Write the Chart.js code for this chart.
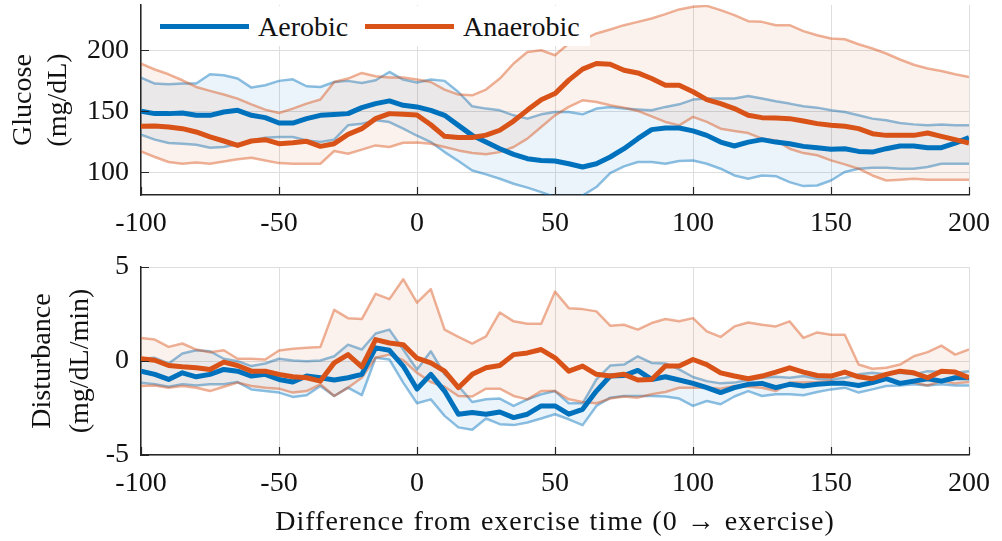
<!DOCTYPE html>
<html><head><meta charset="utf-8">
<script src="https://cdn.jsdelivr.net/npm/chart.js@4.4.1/dist/chart.umd.min.js"></script>
<style>
html,body{margin:0;padding:0;background:#fff;}
#wrap{position:relative;width:1002px;height:541px;overflow:hidden;font-family:'Liberation Serif',serif;color:#111;}
canvas{position:absolute;left:0;}
.t{position:absolute;white-space:nowrap;font-size:28px;line-height:1;}
.rot{transform:translate(-50%,-50%) rotate(-90deg);}
.ctr{transform:translate(-50%,-50%);}
#legend{position:absolute;left:142px;top:6px;width:448px;height:40px;background:#fff;z-index:5;}
.sw{position:absolute;height:5px;}
</style></head><body>
<div id="wrap">
<canvas id="topc" width="1002" height="250" style="top:0"></canvas>
<canvas id="botc" width="1002" height="291" style="top:250px"></canvas>
<div id="legend"></div>
<div class="t rot" style="left:22px;top:100px">Glucose</div>
<div class="t rot" style="left:57px;top:100px">(mg/dL)</div>
<div class="t rot" style="left:41px;top:361px">Disturbance</div>
<div class="t rot" style="left:79px;top:361px">(mg/dL/min)</div>
<div class="t ctr" style="left:555px;top:521px;letter-spacing:1px;word-spacing:1px">Difference from exercise time (0 → exercise)</div>
</div>
<script>
// ---------- data ----------
const times = [-100,-95,-90,-85,-80,-75,-70,-65,-60,-55,-50,-45,-40,-35,-30,-25,-20,-15,-10,-5,0,5,10,15,20,25,30,35,40,45,50,55,60,65,70,75,80,85,90,95,100,105,110,115,120,125,130,135,140,145,150,155,160,165,170,175,180,185,190,195,200];
const xTicks = [-100,-50,0,50,100,150,200];
const glucoseTicks = [100,150,200];
const disturbanceTicks = [-5,0,5];
const seriesNames = ['Aerobic','Anaerobic'];

const glucoseAerobicMean = [150.0,148.1,148.1,148.6,146.7,146.7,149.4,150.8,146.7,144.8,140.4,140.4,144.0,146.7,147.3,148.1,153.0,156.3,158.5,154.9,153.6,150.8,146.7,138.5,130.3,124.8,119.4,114.8,111.2,109.8,109.3,107.1,104.4,107.1,112.6,119.4,127.6,135.0,136.3,136.3,134.0,130.3,124.8,121.6,124.8,126.8,124.8,123.5,121.3,120.2,118.9,119.4,117.2,116.6,119.4,121.6,121.6,120.2,120.2,124.0,128.4];
const glucoseAerobicUpper = [177.6,172.7,172.1,172.7,172.7,180.3,179.5,176.8,169.4,171.3,174.9,176.2,170.5,169.9,174.0,174.9,173.2,175.4,182.2,176.0,173.5,176.0,174.9,165.8,154.1,152.2,150.8,146.7,144.0,147.5,149.4,149.4,147.5,152.2,153.6,152.2,151.4,150.8,153.6,155.7,159.6,160.4,160.4,160.4,162.6,160.4,158.2,156.3,154.1,153.0,150.8,149.4,146.7,144.0,142.6,140.4,139.3,138.5,139.1,138.5,138.5];
const glucoseAerobicLower = [130.9,126.8,124.0,123.5,122.7,120.2,120.8,123.0,126.2,128.4,129.0,129.0,126.2,124.9,126.8,138.5,139.9,142.6,141.2,135.8,130.0,124.8,116.6,109.3,101.6,98.4,94.8,90.7,87.5,83.9,79.8,78.5,81.1,88.0,99.5,104.9,108.5,108.5,107.1,109.3,109.8,107.1,103.0,97.5,94.8,97.5,96.9,92.0,88.8,89.3,93.4,100.3,103.0,103.8,103.8,103.0,103.0,104.4,107.1,107.1,107.1];
const glucoseAnaerobicMean = [137.7,138.0,137.2,135.8,133.1,129.0,125.7,122.1,125.7,126.8,123.5,124.3,125.4,121.3,123.5,131.1,135.8,144.0,148.1,147.5,147.0,139.0,129.5,128.5,128.5,130.5,134.5,142.0,151.0,159.5,164.5,175.5,184.5,189.1,188.5,183.6,181.4,176.8,171.3,171.3,166.0,159.6,156.3,152.2,146.7,144.8,144.5,144.0,142.1,139.9,138.5,137.7,135.8,131.7,130.3,130.3,130.3,132.2,129.5,126.8,124.0];
const glucoseAnaerobicUpper = [189.1,184.2,180.3,175.4,169.9,166.7,163.7,160.4,155.7,151.4,148.6,152.2,156.3,159.6,174.0,176.8,181.4,178.7,177.6,177.6,176.0,174.0,167.8,163.7,163.1,167.8,176.8,189.1,198.6,200.0,195.9,205.5,208.2,213.7,217.0,220.5,223.2,226.0,229.5,233.4,235.5,236.3,232.8,228.7,223.8,223.2,220.5,220.5,215.6,212.3,209.6,209.0,204.9,201.4,197.3,192.4,188.1,185.0,183.0,180.3,178.1];
const glucoseAnaerobicLower = [117.2,112.6,108.5,107.1,108.0,107.1,109.0,110.7,112.0,109.8,107.6,107.1,107.1,107.1,117.5,115.3,118.6,122.1,120.8,124.3,124.5,123.5,120.8,118.0,115.8,114.8,116.6,120.8,127.6,137.2,146.7,153.6,159.0,157.6,154.9,153.0,150.3,145.9,141.3,138.5,145.4,141.3,135.8,133.9,132.2,127.6,126.2,119.4,115.8,114.0,109.8,106.6,103.0,97.5,93.4,94.0,94.8,94.0,94.0,94.0,94.0];

const distAerobicMean = [-0.54,-0.71,-0.98,-0.63,-0.84,-0.71,-0.45,-0.54,-0.80,-0.71,-0.98,-1.12,-0.80,-0.89,-1.01,-0.89,-0.71,0.70,0.57,-0.27,-1.49,-0.71,-1.60,-2.83,-2.74,-2.83,-2.71,-3.01,-2.83,-2.39,-2.39,-2.83,-2.57,-1.60,-0.80,-0.77,-0.50,-0.98,-0.84,-1.01,-1.19,-1.42,-1.68,-1.42,-1.24,-1.19,-1.42,-1.24,-1.33,-1.24,-1.19,-1.19,-1.30,-1.15,-0.94,-1.19,-1.07,-0.94,-1.07,-0.89,-0.89];
const distAerobicUpper = [0.12,0.17,-0.13,0.40,0.57,0.52,0.12,-0.01,-0.27,-0.13,0.12,0.03,-0.01,0.03,0.25,0.87,0.61,1.46,1.67,0.61,-0.45,0.52,-0.71,-1.33,-2.18,-2.04,-2.00,-2.39,-2.04,-1.77,-1.60,-2.25,-2.25,-0.98,-0.24,-0.19,0.25,-0.10,-0.13,-0.45,-0.85,-1.07,-1.19,-1.15,-1.01,-0.89,-0.84,-0.89,-0.80,-0.94,-0.98,-0.89,-0.71,-0.63,-0.71,-0.63,-0.71,-0.54,-0.59,-0.63,-0.54];
const distAerobicLower = [-1.15,-1.24,-1.37,-1.24,-1.30,-1.24,-1.24,-1.12,-1.51,-1.60,-1.68,-1.91,-1.82,-1.33,-1.86,-1.42,-1.82,0.17,0.08,-1.15,-2.25,-2.04,-2.92,-3.53,-3.66,-3.06,-3.36,-3.41,-3.27,-3.06,-2.83,-3.10,-3.41,-2.39,-1.95,-1.86,-1.86,-1.86,-1.89,-2.00,-2.39,-2.13,-2.30,-1.89,-1.60,-1.86,-1.77,-1.77,-1.82,-1.65,-1.51,-1.42,-1.68,-1.51,-1.33,-1.30,-1.24,-1.30,-1.24,-1.30,-1.30];
const distAnaerobicMean = [0.12,0.04,-0.24,-0.31,-0.36,-0.45,-0.06,-0.24,-0.54,-0.54,-0.71,-0.84,-0.89,-1.07,-0.10,0.34,-0.31,1.14,0.96,0.87,0.15,-0.10,-0.54,-1.42,-0.71,-0.36,-0.24,0.34,0.43,0.61,0.17,-0.54,-0.27,-0.71,-0.80,-0.71,-1.01,-0.98,-0.27,-0.27,0.08,-0.19,-0.63,-0.80,-0.94,-0.80,-0.59,-0.36,-0.59,-0.77,-0.80,-0.59,-0.84,-0.94,-0.71,-0.54,-0.63,-0.89,-0.54,-0.59,-0.89];
const distAnaerobicUpper = [1.23,1.14,0.75,0.93,0.61,0.47,0.57,0.12,0.12,0.08,0.56,0.65,0.70,0.75,2.72,2.28,2.23,3.57,3.29,4.35,3.10,3.82,1.67,1.28,0.93,1.31,2.58,2.11,1.98,1.98,3.69,2.81,2.76,2.64,1.88,1.93,1.67,2.02,2.23,2.11,2.28,1.58,1.28,1.84,2.05,1.93,1.84,2.11,1.23,1.52,1.40,1.40,-0.19,-0.41,-0.36,-0.19,0.25,0.47,0.82,0.34,0.61];
const distAnaerobicLower = [-1.33,-1.30,-1.42,-1.33,-1.42,-1.60,-1.37,-1.15,-1.33,-1.42,-1.47,-1.68,-1.60,-1.24,-1.86,-1.42,-0.89,0.17,0.34,0.04,-0.63,-1.12,-1.37,-1.86,-1.89,-1.47,-1.47,-1.86,-2.04,-1.60,-1.60,-2.04,-2.18,-2.25,-2.00,-1.89,-1.95,-1.77,-1.65,-1.42,-1.42,-1.42,-1.47,-1.33,-1.37,-1.42,-1.60,-1.15,-1.15,-1.12,-1.07,-1.24,-1.24,-1.19,-0.98,-1.19,-1.15,-1.30,-1.07,-1.19,-1.12];

// ---------- style ----------
const BLUE = '#0072BD', ORANGE = '#D95319';
const BLUE_EDGE = 'rgba(0,114,189,0.45)', ORANGE_EDGE = 'rgba(217,83,25,0.45)';
const BLUE_FILL = 'rgba(0,114,189,0.08)', ORANGE_FILL = 'rgba(217,83,25,0.08)';
const FONT = "'Liberation Serif', serif";

// legend (HTML, real text)
(function(){
  const lg = document.getElementById('legend');
  const items = [
    {name: seriesNames[0], color: BLUE, x0: 18, w: 89, tx: 116},
    {name: seriesNames[1], color: ORANGE, x0: 223, w: 89, tx: 321}
  ];
  items.forEach(it=>{
    const s = document.createElement('div');
    s.className='sw'; s.style.left=it.x0+'px'; s.style.width=it.w+'px'; s.style.top='18px'; s.style.background=it.color;
    lg.appendChild(s);
    const t = document.createElement('div');
    t.className='t'; t.textContent=it.name; t.style.left=it.tx+'px'; t.style.top='7px';
    lg.appendChild(t);
  });
})();

function pts(ys){ return times.map((t,i)=>({x:t, y:ys[i]})); }

const inTicks = {
  id:'inTicks',
  afterDraw(chart){
    const {ctx, chartArea:a, scales} = chart;
    ctx.save(); ctx.strokeStyle='#262626'; ctx.lineWidth=1.2;
    ctx.beginPath();
    scales.x.ticks.forEach(t=>{const px=Math.round(scales.x.getPixelForValue(t.value))+0.5; ctx.moveTo(px,a.bottom); ctx.lineTo(px,a.bottom-8);});
    scales.y.ticks.forEach(t=>{const py=Math.round(scales.y.getPixelForValue(t.value))+0.5; ctx.moveTo(a.left,py); ctx.lineTo(a.left+8,py);});
    ctx.stroke(); ctx.restore();
  }
};

function makeChart(id, s, yMin, yMax, yTicks, padTop, xAxisH){
  const ds = [
    {data: pts(s.anMean), borderColor: ORANGE, borderWidth: 5, order: 0},
    {data: pts(s.aeMean), borderColor: BLUE, borderWidth: 5, order: 1},
    {data: pts(s.anUp), borderColor: ORANGE_EDGE, borderWidth: 2.5, order: 2, fill: {target: 3}, backgroundColor: ORANGE_FILL},
    {data: pts(s.anLo), borderColor: ORANGE_EDGE, borderWidth: 2.5, order: 2},
    {data: pts(s.aeUp), borderColor: BLUE_EDGE, borderWidth: 2.5, order: 3, fill: {target: 5}, backgroundColor: BLUE_FILL},
    {data: pts(s.aeLo), borderColor: BLUE_EDGE, borderWidth: 2.5, order: 3}
  ].map(d=>Object.assign({pointRadius:0, tension:0, fill: d.fill||false, borderJoinStyle:'round', borderCapStyle:'butt'}, d));
  return new Chart(document.getElementById(id), {
    type:'line',
    data:{datasets: ds},
    plugins:[inTicks],
    options:{
      responsive:false, animation:false, devicePixelRatio:1,
      layout:{padding:{top:padTop, right:33, left:0, bottom:0}},
      plugins:{legend:{display:false}, tooltip:{enabled:false}},
      scales:{
        x:{type:'linear', min:-100, max:200,
           afterBuildTicks: sc=>{ sc.ticks = xTicks.map(v=>({value:v})); },
           afterFit: sc=>{ sc.height = xAxisH; sc.paddingLeft = 0; sc.paddingRight = 0; },
           grid:{color:'#dedede', lineWidth:1, drawTicks:false},
           border:{display:true, color:'#262626', width:1.5},
           ticks:{padding:12, color:'#111', font:{family:FONT, size:28}, maxRotation:0, autoSkip:false}},
        y:{type:'linear', min:yMin, max:yMax,
           afterBuildTicks: sc=>{ sc.ticks = yTicks.map(v=>({value:v})); },
           afterFit: sc=>{ sc.width = 141; sc.paddingTop = 0; sc.paddingBottom = 0; },
           grid:{color:'#dedede', lineWidth:1, drawTicks:false},
           border:{display:true, color:'#262626', width:1.5},
           ticks:{padding:12, color:'#111', font:{family:FONT, size:28}, autoSkip:false}}
      }
    }
  });
}

makeChart('topc', {
  aeMean: glucoseAerobicMean, aeUp: glucoseAerobicUpper, aeLo: glucoseAerobicLower,
  anMean: glucoseAnaerobicMean, anUp: glucoseAnaerobicUpper, anLo: glucoseAnaerobicLower
}, 81.5, 237, glucoseTicks, 5, 55);

makeChart('botc', {
  aeMean: distAerobicMean, aeUp: distAerobicUpper, aeLo: distAerobicLower,
  anMean: distAnaerobicMean, anUp: distAnaerobicUpper, anLo: distAnaerobicLower
}, -5, 5, disturbanceTicks, 17, 86);
</script>
</body></html>
